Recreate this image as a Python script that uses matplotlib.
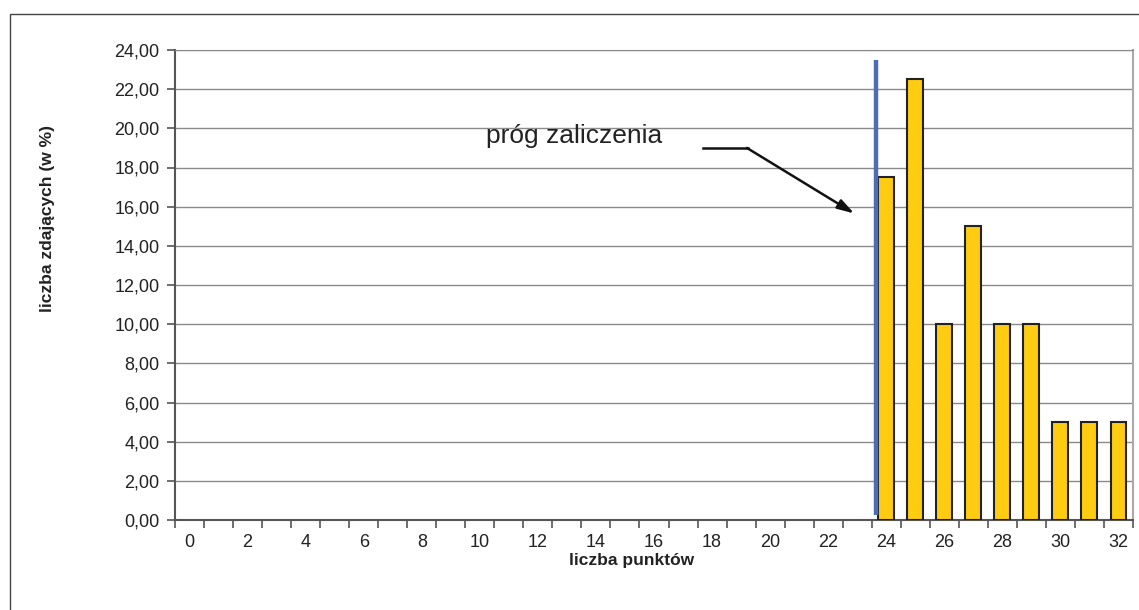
import matplotlib.pyplot as plt
from matplotlib.patches import Rectangle

plt.rcParams['font.family'] = ['Liberation Sans', 'DejaVu Sans']

# Data
points = list(range(0, 33))
bar_points = [24, 25, 26, 27, 28, 29, 30, 31, 32]
bar_values = [17.5, 22.5, 10.0, 15.0, 10.0, 10.0, 5.0, 5.0, 5.0]
y_ticks = [0, 2, 4, 6, 8, 10, 12, 14, 16, 18, 20, 22, 24]
x_label_ticks = list(range(0, 33, 2))
threshold = 23.65

W, H = 1139, 610
fig = plt.figure(figsize=(W / 100, H / 100), dpi=100)
ax = fig.add_axes([175 / W, 1 - 520 / H, (1133 - 175) / W, (520 - 50) / H])

# outer frame
fig.patches.append(Rectangle((10 / W, -0.1), 1.2, 1 - 14 / H + 0.1,
                             transform=fig.transFigure, fill=False,
                             edgecolor='#444444', linewidth=1.0))

ax.bar(bar_points, bar_values, width=0.55, color='#FFCC11',
       edgecolor='#222222', linewidth=1.5, zorder=3)

# threshold line
ax.plot([threshold, threshold], [0.25, 23.5], color='#4A6DB5',
        linewidth=3.2, zorder=4, solid_capstyle='butt')

# annotation
ax.text(10.2, 19.25, 'próg zaliczenia', fontsize=19, va='baseline',
        ha='left', color='#222222')
ax.plot([17.7, 19.25], [19.0, 19.0], color='#111111', linewidth=1.8)
ax.annotate('', xy=(22.9, 15.65), xytext=(19.2, 19.0),
            arrowprops=dict(arrowstyle='-|>,head_length=1.0,head_width=0.3',
                            color='#111111', lw=1.8, shrinkA=0, shrinkB=0))

ax.set_xlim(-0.5, 32.5)
ax.set_ylim(0, 24)
ax.set_yticks(y_ticks)
ax.set_yticklabels([f'{v:.2f}'.replace('.', ',') for v in y_ticks],
                   fontsize=13, color='#222222')
ax.set_xticks([p - 0.5 for p in points] + [32.5])
ax.set_xticklabels([])
ax.set_xticks(x_label_ticks, minor=True)
ax.set_xticklabels([str(p) for p in x_label_ticks], minor=True,
                   fontsize=13, color='#222222')
ax.tick_params(axis='x', which='major', length=6, color='#555555', width=1.2)
ax.tick_params(axis='x', which='minor', length=0, pad=10)
ax.tick_params(axis='y', length=6, color='#555555', width=1.2, pad=5)

ax.grid(axis='y', color='#8a8a8a', linewidth=1.0, zorder=0)
ax.set_axisbelow(True)
for s in ['left', 'bottom']:
    ax.spines[s].set_color('#555555')
    ax.spines[s].set_linewidth(1.5)
ax.spines['top'].set_color('#8a8a8a')
ax.spines['right'].set_color('#aaaaaa')
ax.spines['right'].set_linewidth(1.5)

fig.text(632 / W, 1 - 560 / H, 'liczba punktów', fontsize=12.5,
         fontweight='bold', color='#222222', ha='center', va='center')
fig.text(48 / W, 1 - 219 / H, 'liczba zdających (w %)', fontsize=12.5,
         fontweight='bold', color='#222222', ha='center', va='center',
         rotation=90)

fig.savefig('out.png', dpi=100)
